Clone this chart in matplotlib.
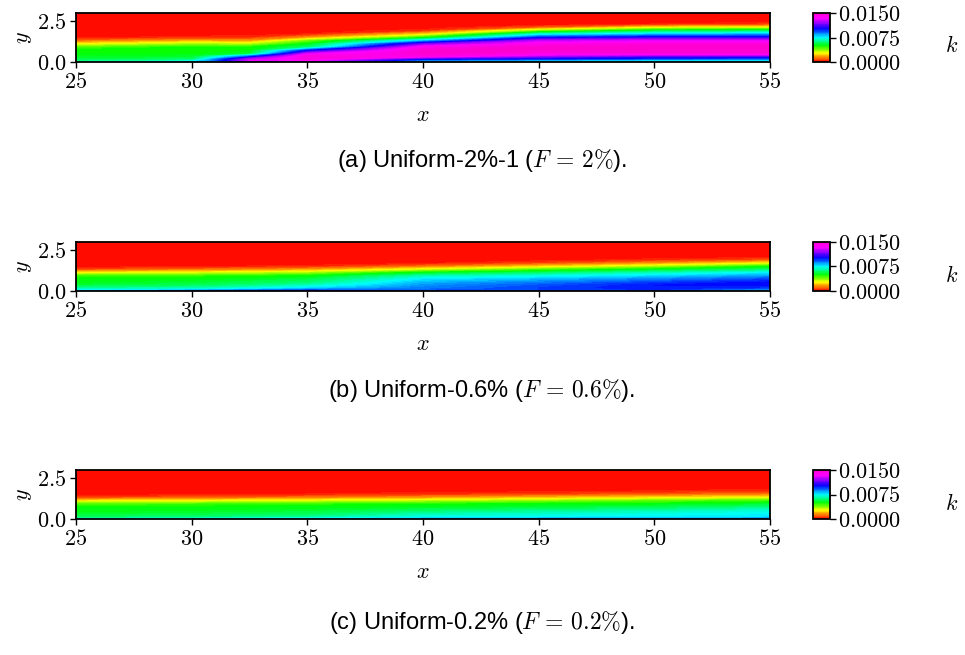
import numpy as np
import matplotlib
matplotlib.use('Agg')
import matplotlib.pyplot as plt
from matplotlib.colors import LinearSegmentedColormap

plt.rcParams['mathtext.fontset'] = 'cm'
plt.rcParams['font.family'] = ['Liberation Sans', 'DejaVu Sans']

# stations and wall-normal levels of the field (k in units of 1e-3)
x_st = [25, 30, 32.5, 35, 40, 45, 50, 55]
y_lv = [0.0, 0.1, 0.2, 0.35, 0.5, 0.7, 0.9, 1.1, 1.3, 1.5, 1.7, 1.9, 2.1, 2.3, 2.5, 3.0]

# panel (a): Uniform-2%-1, one row per x station (values from wall upward)
k_a = [
    [6.5, 6.0, 5.5, 5.2, 5.0, 5.0, 4.2, 2.6, 1.1, 0.2, 0, 0, 0, 0, 0, 0],
    [8.0, 6.5, 5.7, 5.3, 5.0, 5.0, 4.8, 3.4, 1.7, 0.4, 0, 0, 0, 0, 0, 0],
    [9.0, 13.0, 12.0, 9.0, 5.5, 5.0, 4.8, 3.2, 1.5, 0.5, 0.1, 0, 0, 0, 0, 0],
    [10.0, 13.5, 14.5, 14.5, 13.0, 10.0, 6.0, 5.0, 3.8, 1.5, 0.3, 0, 0, 0, 0, 0],
    [8.0, 8.5, 10.5, 14.0, 14.8, 14.8, 14.0, 11.5, 8.0, 4.5, 2.2, 0.5, 0, 0, 0, 0],
    [7.5, 8.0, 10.0, 12.0, 14.0, 14.8, 14.8, 14.0, 12.5, 9.8, 7.0, 3.8, 1.0, 0, 0, 0],
    [7.5, 7.5, 9.5, 11.0, 14.0, 15.0, 15.0, 14.5, 13.0, 10.5, 8.0, 5.5, 2.7, 0.3, 0, 0],
    [7.0, 7.5, 9.0, 11.0, 14.0, 15.0, 15.0, 14.5, 13.0, 10.5, 8.3, 5.8, 3.0, 0.6, 0.1, 0],
]
# panel (b): Uniform-0.6%
k_b = [
    [8.0, 7.0, 6.3, 5.5, 5.2, 5.0, 4.5, 2.7, 0.8, 0.1, 0, 0, 0, 0, 0, 0],
    [9.5, 7.2, 6.5, 5.8, 5.4, 5.1, 4.6, 3.0, 1.2, 0.2, 0, 0, 0, 0, 0, 0],
    [10.0, 7.8, 7.0, 6.2, 5.7, 5.3, 4.8, 3.2, 1.4, 0.3, 0, 0, 0, 0, 0, 0],
    [10.5, 8.5, 7.6, 6.8, 6.1, 5.6, 5.0, 3.5, 1.7, 0.4, 0, 0, 0, 0, 0, 0],
    [9.5, 9.0, 8.8, 8.6, 8.3, 7.7, 6.8, 5.2, 3.0, 1.2, 0.2, 0, 0, 0, 0, 0],
    [9.5, 9.5, 9.5, 9.3, 8.9, 8.2, 7.3, 6.0, 4.2, 2.2, 0.7, 0.1, 0, 0, 0, 0],
    [9.0, 9.8, 10.0, 10.0, 9.6, 8.8, 7.9, 6.8, 5.2, 3.3, 1.5, 0.4, 0, 0, 0, 0],
    [7.5, 8.5, 9.5, 10.2, 10.2, 9.5, 8.6, 7.6, 6.0, 4.8, 2.6, 0.8, 0.1, 0, 0, 0],
]
# panel (c): Uniform-0.2%
k_c = [
    [7.0, 6.0, 5.6, 5.3, 5.1, 5.0, 4.3, 2.5, 0.8, 0.1, 0, 0, 0, 0, 0, 0],
    [7.5, 6.2, 5.8, 5.5, 5.2, 5.0, 4.4, 2.7, 1.0, 0.15, 0, 0, 0, 0, 0, 0],
    [7.8, 6.4, 6.0, 5.6, 5.3, 5.1, 4.5, 2.9, 1.1, 0.2, 0, 0, 0, 0, 0, 0],
    [8.0, 6.6, 6.1, 5.7, 5.4, 5.1, 4.6, 3.0, 1.3, 0.3, 0, 0, 0, 0, 0, 0],
    [8.5, 7.3, 7.0, 6.5, 5.9, 5.3, 4.8, 3.3, 1.6, 0.5, 0.1, 0, 0, 0, 0, 0],
    [8.8, 7.5, 7.2, 6.8, 6.3, 5.5, 5.0, 3.7, 2.0, 0.7, 0.15, 0, 0, 0, 0, 0],
    [9.0, 7.7, 7.4, 7.1, 6.6, 5.8, 5.1, 4.1, 2.4, 1.0, 0.3, 0, 0, 0, 0, 0],
    [9.0, 7.8, 7.6, 7.4, 7.1, 6.3, 5.4, 4.5, 2.8, 1.3, 0.5, 0.1, 0, 0, 0, 0],
]

captions = [r'(a) Uniform-2%-1 ($F\,=\,2\%$).',
            r'(b) Uniform-0.6% ($F\,=\,0.6\%$).',
            r'(c) Uniform-0.2% ($F\,=\,0.2\%$).']
fields = [k_a, k_b, k_c]

x_ticks = [25, 30, 35, 40, 45, 50, 55]
y_ticks = [0.0, 2.5]
cb_ticks = [0.0, 0.0075, 0.015]

# rainbow map as seen on the colour bars: red -> yellow -> green -> cyan -> blue -> magenta
cmap = LinearSegmentedColormap.from_list('k_rainbow', [
    (0.00, (1.0, 0.0, 0.0)),
    (0.08, (1.0, 0.45, 0.0)),
    (0.18, (1.0, 1.0, 0.0)),
    (0.33, (0.0, 1.0, 0.0)),
    (0.50, (0.0, 1.0, 1.0)),
    (0.68, (0.0, 0.0, 1.0)),
    (0.80, (0.6, 0.0, 1.0)),
    (0.90, (1.0, 0.0, 1.0)),
    (1.00, (1.0, 0.0, 0.8)),
])
levels = np.linspace(0, 0.015, 61)

W, H = 965, 655
fig = plt.figure(figsize=(W / 100, H / 100), dpi=100)

tops = [13, 242, 470]
cap_y = [161, 390, 622]
X, Y = np.meshgrid(x_st, y_lv)

for i in range(3):
    top = tops[i]
    ax = fig.add_axes([76 / W, 1 - (top + 49) / H, 694 / W, 49 / H])
    K = np.array(fields[i]).T * 1e-3
    cf = ax.contourf(X, Y, K, levels=levels, cmap=cmap)
    ax.set_xlim(25, 55)
    ax.set_ylim(0, 3)
    ax.set_xticks(x_ticks)
    ax.set_xticklabels(['$%d$' % v for v in x_ticks], fontsize=16)
    ax.set_yticks(y_ticks)
    ax.set_yticklabels(['$%.1f$' % v for v in y_ticks], fontsize=16)
    ax.tick_params(direction='out', length=4, width=1.0, pad=3)
    for s in ax.spines.values():
        s.set_linewidth(1.3)
    ax.set_xlabel('$x$', fontsize=16, labelpad=9)
    ax.set_ylabel('$y$', fontsize=16, labelpad=2)

    cax = fig.add_axes([813 / W, 1 - (top + 49) / H, 17 / W, 49 / H])
    cb = fig.colorbar(cf, cax=cax, ticks=cb_ticks)
    cb.ax.set_yticklabels(['$%.4f$' % v for v in cb_ticks], fontsize=16)
    cb.ax.tick_params(length=4, width=1.0, pad=2)
    cb.outline.set_linewidth(1.3)
    fig.text(952 / W, 1 - (top + 34) / H, '$k$', fontsize=16,
             ha='center', va='center')

    fig.text(482 / W, 1 - cap_y[i] / H, captions[i], fontsize=17,
             ha='center', va='center')

fig.savefig('out.png', dpi=100)
